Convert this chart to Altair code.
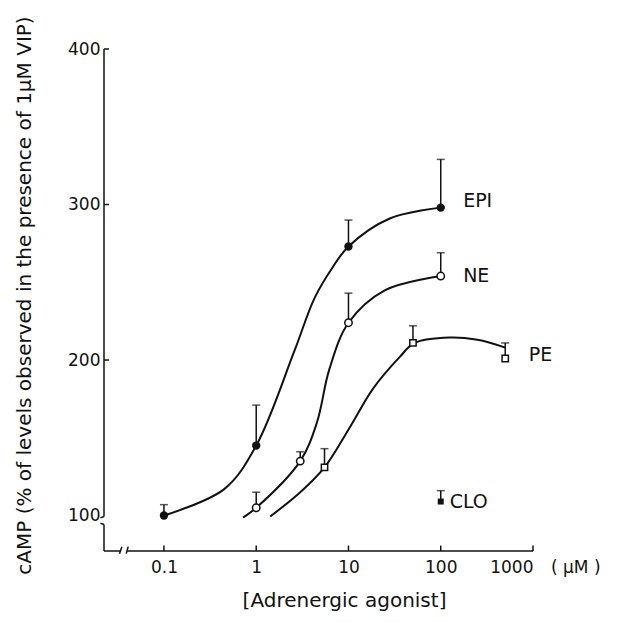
import altair as alt
import pandas as pd

# ---- measured points (x in µM, y in % of 1µM VIP) ----
epi_x = [0.1, 1, 10, 100]
epi_y = [100, 145, 273, 298]
epi_err = [107, 171, 290, 329]

ne_x = [1, 3, 10, 100]
ne_y = [105, 135, 224, 254]
ne_err = [115, 141, 243, 269]

pe_x = [5.5, 50, 500]
pe_y = [131, 211, 201]
pe_err = [143, 222, 211]

clo_x = [100]
clo_y = [109]
clo_err = [116]

# ---- hand-drawn fitted curves ----
epi_curve_x = [0.1, 0.45, 1, 2.6, 4.3, 6.8, 10, 28, 100]
epi_curve_y = [100, 117, 145, 206, 240, 260, 273, 291, 298]

ne_curve_x = [0.72, 1, 3, 4.56, 6.2, 10, 25, 100]
ne_curve_y = [98.7, 105, 135, 160, 194, 224, 245, 254]

pe_curve_x = [1.42, 3, 5.5, 10.4, 18.4, 36, 52, 125, 250, 500]
pe_curve_y = [99.4, 115, 131, 157, 181.5, 202, 211, 214.5, 213, 208]

# ---- labels ----
label_text = ["EPI", "NE", "PE", "CLO"]
label_x = [175, 175, 900, 125]
label_y = [302, 254, 203, 109]

x_ticks = [0.1, 1, 10, 100, 1000]
y_ticks = [100, 200, 300, 400]

X_MIN, X_MAX = 0.0224, 1000
Y_MIN, Y_MAX = 77.2, 400
INK = "#111111"
FONT = "DejaVu Sans"

W, H = 429, 502

def pts(xs, ys, es, s):
    return pd.DataFrame({"x": xs, "y": ys, "e": es, "s": s})

xs = alt.Scale(type="log", domain=[X_MIN, X_MAX])
ys = alt.Scale(domain=[Y_MIN, Y_MAX])

curves = pd.concat([
    pd.DataFrame({"x": epi_curve_x, "y": epi_curve_y, "s": "EPI"}),
    pd.DataFrame({"x": ne_curve_x, "y": ne_curve_y, "s": "NE"}),
    pd.DataFrame({"x": pe_curve_x, "y": pe_curve_y, "s": "PE"}),
])

allpts = pd.concat([
    pts(epi_x, epi_y, epi_err, "EPI"),
    pts(ne_x, ne_y, ne_err, "NE"),
    pts(pe_x, pe_y, pe_err, "PE"),
    pts(clo_x, clo_y, clo_err, "CLO"),
])

xaxis = alt.Axis(values=x_ticks, domain=False, ticks=False, grid=False,
                 labelFont=FONT, labelFontSize=17, labelColor=INK, labelPadding=8,
                 labelExpr="datum.value >= 1 ? format(datum.value, 'd') : format(datum.value, '.1f')",
                 title="[Adrenergic agonist]", titleFont=FONT, titleFontSize=20,
                 titleFontWeight="normal", titleColor=INK, titleX=240, titleY=49,
                 titleAnchor="middle", titleBaseline="middle")
yaxis = alt.Axis(values=y_ticks, domain=False, ticks=False, grid=False,
                 labelFont=FONT, labelFontSize=17, labelColor=INK, labelPadding=4,
                 title="cAMP (% of levels observed in the presence of 1µM VIP)",
                 titleFont=FONT, titleFontSize=20, titleFontWeight="normal", titleColor=INK,
                 titleX=-80, titleY=246, titleAngle=270, titleAnchor="middle",
                 titleBaseline="middle")

base_x = alt.X("x:Q", scale=xs, axis=xaxis)
base_y = alt.Y("y:Q", scale=ys, axis=yaxis)

lines = alt.Chart(curves).mark_line(color=INK, strokeWidth=2, interpolate="catmull-rom").encode(
    x=base_x, y=base_y, detail="s:N")

err = alt.Chart(allpts).mark_rule(color=INK, strokeWidth=1.5).encode(
    x=alt.X("x:Q", scale=xs), y=alt.Y("y:Q", scale=ys), y2="e:Q")
caps = alt.Chart(allpts).mark_tick(color=INK, orient="horizontal", size=8, thickness=1.5).encode(
    x=alt.X("x:Q", scale=xs), y=alt.Y("e:Q", scale=ys))

def marker(s, shape, filled, size):
    d = allpts[allpts.s == s]
    return alt.Chart(d).mark_point(shape=shape, filled=filled, size=size, color=INK,
                                   fill=INK if filled else "white", strokeWidth=1.5,
                                   opacity=1).encode(
        x=alt.X("x:Q", scale=xs), y=alt.Y("y:Q", scale=ys))

m_epi = marker("EPI", "circle", True, 70)
m_ne = marker("NE", "circle", False, 55)
m_pe = marker("PE", "square", False, 40)
m_clo = marker("CLO", "square", True, 36)

labels = alt.Chart(pd.DataFrame({"t": label_text, "x": label_x, "y": label_y})).mark_text(
    align="left", baseline="middle", font=FONT, fontSize=19, color=INK).encode(
    x=alt.X("x:Q", scale=xs), y=alt.Y("y:Q", scale=ys), text="t:N")

unit = alt.Chart(pd.DataFrame({"x": [1000], "y": [Y_MIN], "t": ["( µM )"]})).mark_text(
    align="left", baseline="middle", font=FONT, fontSize=17, color=INK, dx=18, dy=17).encode(
    x=alt.X("x:Q", scale=xs), y=alt.Y("y:Q", scale=ys), text="t:N")

# ---- axis frame (broken axes, inward ticks) ----
axis_segs = pd.DataFrame({
    "x":  [X_MIN, X_MIN, X_MIN, 0.0400],
    "x2": [X_MIN, X_MIN, 0.0340, X_MAX],
    "y":  [99.4, Y_MIN, Y_MIN, Y_MIN],
    "y2": [Y_MAX, 94.2, Y_MIN, Y_MIN],
})
frame = alt.Chart(axis_segs).mark_rule(color=INK, strokeWidth=1.5).encode(
    x=alt.X("x:Q", scale=xs), x2="x2:Q", y=alt.Y("y:Q", scale=ys), y2="y2:Q")

brk = pd.DataFrame({
    "x":  [0.0330, 0.0390, 0.0205, 0.0205],
    "x2": [0.0350, 0.0410, X_MIN, X_MIN],
    "y":  [75.5, 75.5, 98.5, 95.0],
    "y2": [80.0, 80.0, 99.4, 94.2],
})
brks = alt.Chart(brk).mark_rule(color=INK, strokeWidth=1.5).encode(
    x=alt.X("x:Q", scale=xs), x2="x2:Q", y=alt.Y("y:Q", scale=ys), y2="y2:Q")

yt = pd.DataFrame({"x": [X_MIN] * 3, "x2": [0.0254] * 3, "y": [200, 300, 400]})
yticks = alt.Chart(yt).mark_rule(color=INK, strokeWidth=1.5).encode(
    x=alt.X("x:Q", scale=xs), x2="x2:Q", y=alt.Y("y:Q", scale=ys))

xt = pd.DataFrame({"x": x_ticks, "y": [Y_MIN] * 5, "y2": [Y_MIN + 3.5] * 5})
xticks = alt.Chart(xt).mark_rule(color=INK, strokeWidth=1.5).encode(
    x=alt.X("x:Q", scale=xs), y=alt.Y("y:Q", scale=ys), y2="y2:Q")

chart = alt.layer(lines, err, caps, m_epi, m_ne, m_pe, m_clo, labels, unit,
                  frame, brks, yticks, xticks).properties(
    width=W, height=H,
    background="white",
    autosize=alt.AutoSizeParams(type="none"),
    padding={"left": 96, "top": 41, "right": 82, "bottom": 63},
).configure_view(stroke=None, strokeWidth=0)

chart.save("out.html", embed_options={"renderer": "svg", "actions": False})
